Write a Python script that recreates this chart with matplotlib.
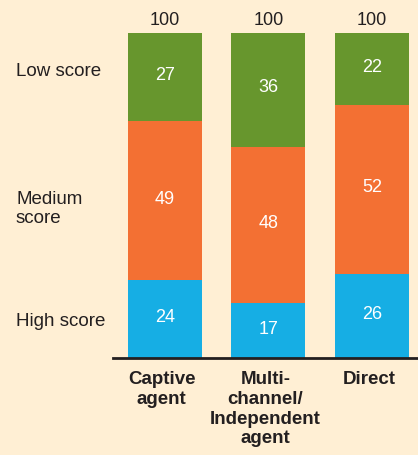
import matplotlib
matplotlib.use("Agg")
import matplotlib.pyplot as plt
import numpy as np

categories = ["Captive\nagent", "Multi-\nchannel/\nIndependent\nagent", "Direct"]
high = [24, 17, 26]
medium = [49, 48, 52]
low = [27, 36, 22]
totals = [100, 100, 100]
row_labels = ["Low score", "Medium\nscore", "High score"]

BG = "#FFEFD4"
GREEN = "#67962D"
ORANGE = "#F37033"
BLUE = "#16AEE4"
TXT = "#231F20"

plt.rcParams['font.family'] = ['Liberation Sans', 'DejaVu Sans']

W, H = 418, 456
fig = plt.figure(figsize=(W / 100, H / 100), dpi=100)
fig.patch.set_facecolor(BG)

left_px, right_px, top_px, base_px = 113, 418, 34, 359
ax = fig.add_axes([left_px / W, 1 - base_px / H, (right_px - left_px) / W, (base_px - top_px) / H])
ax.set_facecolor(BG)
ax.patch.set_alpha(0)

x = np.arange(len(categories))
width = 0.715
ax.set_xlim(-0.502, 2.445)
ax.set_ylim(0, 100)

high_a = np.array(high)
med_a = np.array(medium)
low_a = np.array(low)

b1 = ax.bar(x, high_a, width, color=BLUE)
b2 = ax.bar(x, med_a, width, bottom=high_a, color=ORANGE)
b3 = ax.bar(x, low_a, width, bottom=high_a + med_a, color=GREEN)

for bars, vals, bottoms in [(b1, high_a, np.zeros(3)), (b2, med_a, high_a), (b3, low_a, high_a + med_a)]:
    for xi, v, bt in zip(x, vals, bottoms):
        ax.annotate(f"{v}", (xi, bt + v / 2), xytext=(0, 1.5), textcoords="offset points",
                    ha="center", va="center", color="white", fontsize=13)

for xi, t in zip(x, totals):
    ax.annotate(f"{t}", (xi, 100), xytext=(0, 3.5), textcoords="offset points",
                ha="center", va="bottom", color=TXT, fontsize=13)

for xi, c in zip(x, categories):
    ax.annotate(c, (xi - 0.03, 0), xytext=(0, -9), textcoords="offset points",
                ha="center", va="top", color=TXT, fontsize=13.5, fontweight="bold",
                linespacing=1.2)

for s in ["top", "right", "left"]:
    ax.spines[s].set_visible(False)
ax.spines["bottom"].set_linewidth(2.0)
ax.spines["bottom"].set_color(TXT)
ax.set_xticks([])
ax.set_yticks([])

row_y = [71, 209, 321]
for lab, yp in zip(row_labels, row_y):
    fig.text(16 / W, 1 - yp / H, lab, ha="left", va="center", color=TXT, fontsize=13.5,
             linespacing=1.2)

fig.savefig("out.png", dpi=100, facecolor=BG)
